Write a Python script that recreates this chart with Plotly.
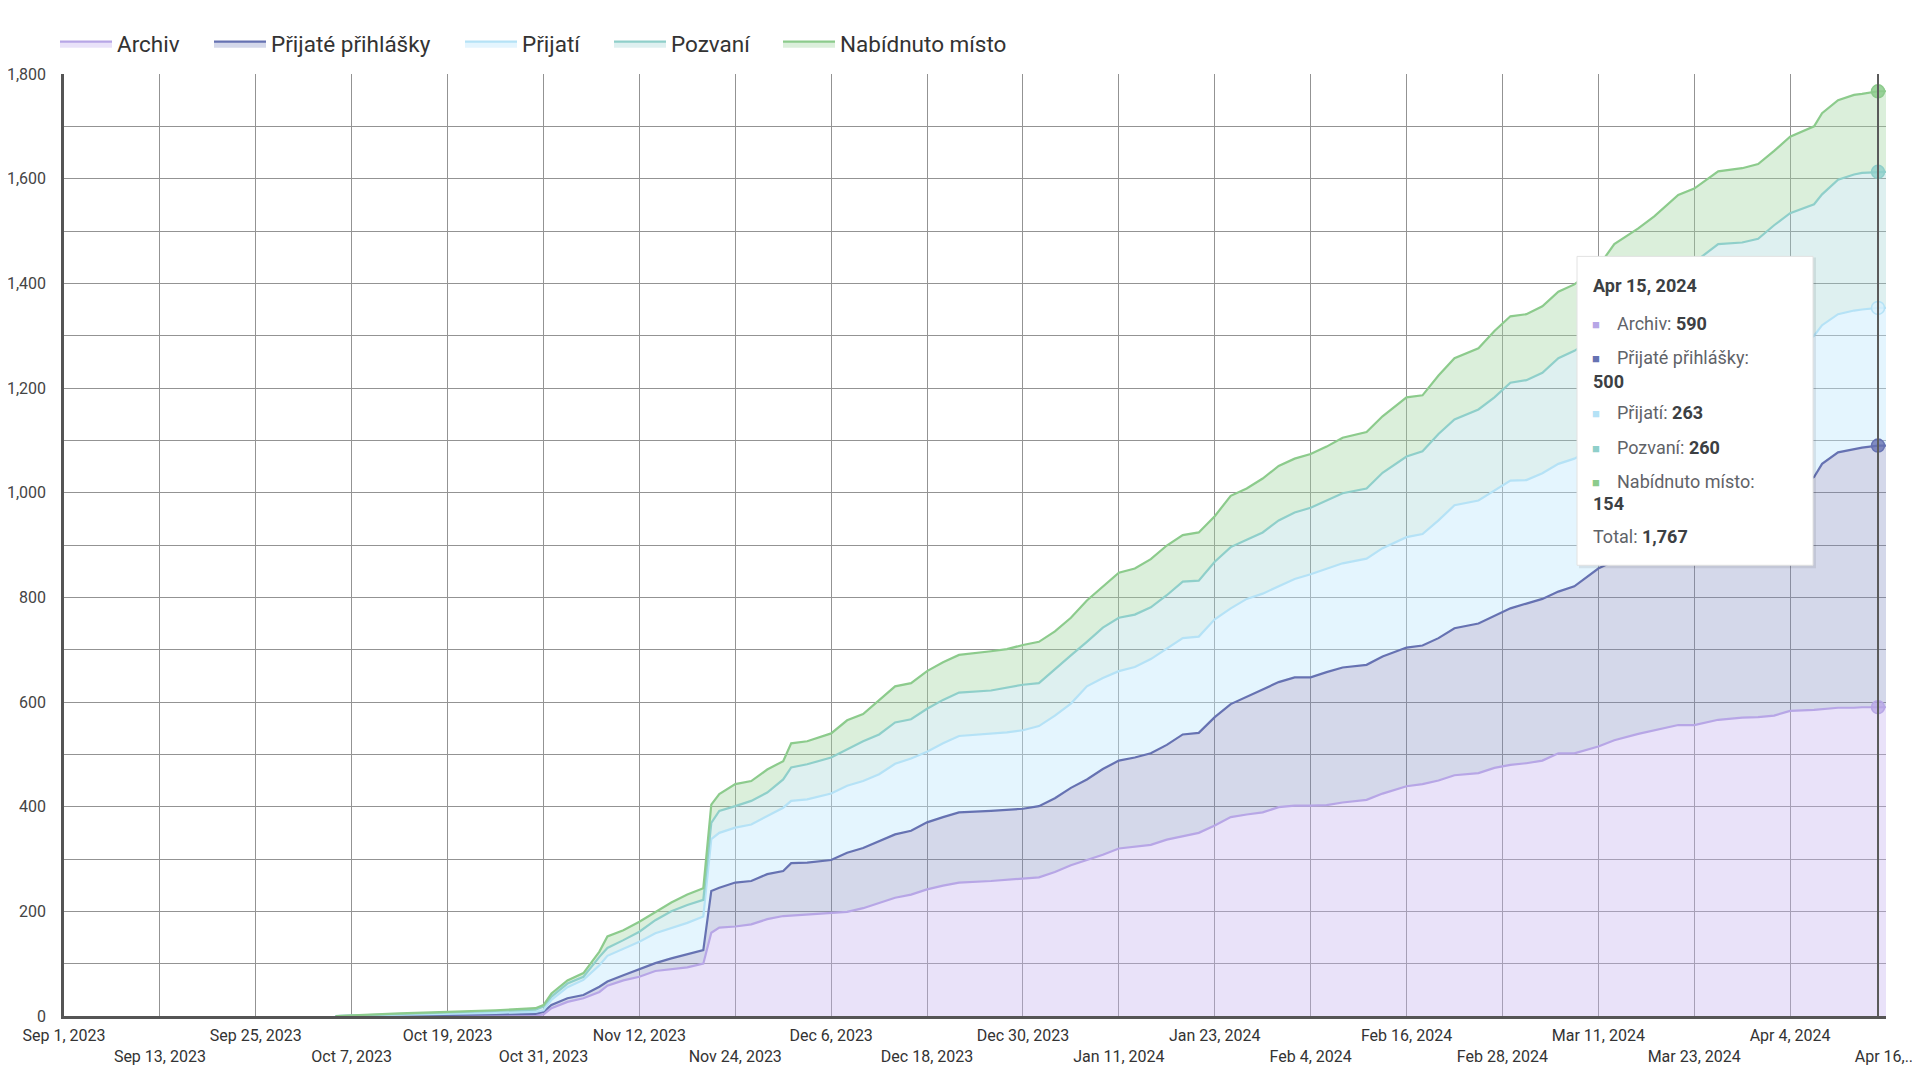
import numpy as np
import pandas as pd
import plotly.graph_objects as go

# ---------------- data ----------------
dates = ["2023-10-05", "2023-10-09", "2023-10-13", "2023-10-19", "2023-10-25", "2023-10-30", "2023-10-31",
         "2023-11-01", "2023-11-03", "2023-11-05", "2023-11-07", "2023-11-08", "2023-11-10", "2023-11-12",
         "2023-11-14", "2023-11-16", "2023-11-18", "2023-11-20", "2023-11-21", "2023-11-22", "2023-11-24",
         "2023-11-26", "2023-11-28", "2023-11-30", "2023-12-01", "2023-12-03", "2023-12-06", "2023-12-08",
         "2023-12-10", "2023-12-12", "2023-12-14", "2023-12-16", "2023-12-18", "2023-12-20", "2023-12-22",
         "2023-12-26", "2023-12-28", "2023-12-30", "2024-01-01", "2024-01-03", "2024-01-05", "2024-01-07",
         "2024-01-09", "2024-01-11", "2024-01-13", "2024-01-15", "2024-01-17", "2024-01-19", "2024-01-21",
         "2024-01-23", "2024-01-25", "2024-01-27", "2024-01-29", "2024-01-31", "2024-02-02", "2024-02-04",
         "2024-02-06", "2024-02-08", "2024-02-11", "2024-02-13", "2024-02-16", "2024-02-18", "2024-02-20",
         "2024-02-22", "2024-02-25", "2024-02-27", "2024-02-29", "2024-03-02", "2024-03-04", "2024-03-06",
         "2024-03-08", "2024-03-11", "2024-03-13", "2024-03-16", "2024-03-18", "2024-03-21", "2024-03-23",
         "2024-03-26", "2024-03-29", "2024-03-31", "2024-04-02", "2024-04-04", "2024-04-07", "2024-04-08",
         "2024-04-10", "2024-04-12", "2024-04-13", "2024-04-15", "2024-04-16"]

# running (stacked) totals, bottom layer first
top_archiv = [0, 0, 0, 0, 0, 1, 3, 15, 27, 34,
              46, 58, 68, 75, 86, 90, 93, 100, 159, 169,
              171, 175, 185, 191, 192, 194, 196, 199, 206, 216,
              226, 232, 242, 249, 255, 258, 260, 262, 265, 275,
              288, 298, 308, 320, 323, 327, 337, 344, 350, 364,
              380, 385, 389, 399, 402, 402, 403, 408, 413, 425,
              439, 443, 450, 460, 464, 474, 480, 483, 488, 502,
              502, 515, 527, 539, 546, 556, 556, 566, 570, 571,
              574, 583, 585, 586, 589, 589, 590, 590, 590]
top_prijate = [0, 0, 1, 2, 3, 4, 8, 21, 34, 40,
               56, 66, 78, 89, 101, 110, 118, 126, 239, 245,
               255, 258, 271, 277, 292, 293, 298, 312, 321, 334,
               347, 354, 370, 380, 389, 392, 394, 396, 401, 416,
               436, 452, 472, 488, 494, 502, 518, 538, 541, 571,
               596, 610, 624, 638, 647, 647, 657, 666, 671, 687,
               704, 708, 722, 741, 750, 765, 779, 788, 797, 811,
               821, 855, 870, 890, 905, 925, 940, 955, 965, 975,
               990, 1005, 1030, 1055, 1077, 1083, 1086, 1090, 1090]
top_prijati = [0, 1, 3, 4, 6, 8, 11, 31, 55, 69,
               97, 115, 128, 142, 158, 168, 178, 190, 338, 350,
               360, 366, 382, 398, 411, 414, 425, 440, 449, 462,
               482, 492, 505, 521, 535, 539, 542, 546, 554, 574,
               597, 630, 646, 659, 667, 682, 702, 722, 725, 758,
               779, 797, 807, 821, 835, 844, 854, 865, 874, 894,
               915, 921, 947, 976, 985, 1004, 1023, 1024, 1037, 1055,
               1065, 1090, 1110, 1130, 1150, 1175, 1190, 1210, 1225, 1235,
               1250, 1265, 1300, 1320, 1341, 1348, 1350, 1353, 1353]
top_pozvani = [0, 2, 4, 6, 9, 12, 18, 37, 62, 75,
               113, 130, 145, 161, 183, 200, 212, 222, 369, 392,
               401, 411, 427, 452, 475, 481, 494, 510, 525, 538,
               561, 567, 587, 604, 618, 622, 627, 633, 636, 663,
               689, 715, 742, 761, 767, 781, 804, 830, 832, 868,
               896, 910, 924, 947, 962, 971, 985, 999, 1008, 1038,
               1069, 1079, 1112, 1140, 1159, 1182, 1210, 1215, 1229, 1257,
               1271, 1300, 1330, 1360, 1385, 1420, 1440, 1475, 1478, 1485,
               1511, 1534, 1551, 1570, 1598, 1608, 1611, 1613, 1613]
top_nabidnuto = [0, 3, 5, 8, 11, 15, 21, 43, 68, 82,
                 123, 152, 164, 180, 199, 217, 232, 244, 404, 424,
                 443, 449, 471, 487, 521, 525, 540, 565, 577, 604,
                 630, 636, 659, 676, 690, 697, 701, 709, 715, 735,
                 761, 794, 820, 847, 855, 873, 899, 919, 924, 955,
                 994, 1008, 1027, 1051, 1065, 1074, 1088, 1105, 1116, 1146,
                 1182, 1186, 1224, 1257, 1276, 1309, 1337, 1341, 1356, 1384,
                 1398, 1432, 1475, 1505, 1528, 1569, 1581, 1614, 1620, 1628,
                 1653, 1680, 1700, 1725, 1750, 1760, 1762, 1767, 1767]

series_names = ["Archiv", "Přijaté přihlášky", "Přijatí", "Pozvaní", "Nabídnuto místo"]
tick_labels = ["Sep 1, 2023", "Sep 13, 2023", "Sep 25, 2023", "Oct 7, 2023", "Oct 19, 2023",
               "Oct 31, 2023", "Nov 12, 2023", "Nov 24, 2023", "Dec 6, 2023", "Dec 18, 2023",
               "Dec 30, 2023", "Jan 11, 2024", "Jan 23, 2024", "Feb 4, 2024", "Feb 16, 2024",
               "Feb 28, 2024", "Mar 11, 2024", "Mar 23, 2024", "Apr 4, 2024", "Apr 16,..."]
hover_date = "2024-04-15"
hover_label = "Apr 15, 2024"

# ---------------- styles ----------------
line_colors = ["#b7a6e6", "#6672b2", "#b5e2f6", "#8fcfca", "#8ccb8c"]
fill_colors = ["rgba(196,180,238,0.38)", "rgba(120,134,190,0.32)", "rgba(190,232,252,0.42)",
               "rgba(160,212,212,0.35)", "rgba(160,212,160,0.38)"]
marker_colors = ["rgba(183,166,230,0.75)", "rgba(102,114,178,0.8)", "rgba(215,240,252,0.8)",
                 "rgba(143,207,202,0.8)", "rgba(140,203,140,0.85)"]
square_colors = ["#b7a6e6", "#6672b2", "#b5e2f6", "#8fcfca", "#8ccb8c"]
legend_x_px = [61, 215, 466, 615, 784]
FONT = "Roboto, 'Noto Sans', sans-serif"
GRID = "#939393"

levels = np.array([top_archiv, top_prijate, top_prijati, top_pozvani, top_nabidnuto], dtype=float)
values = np.diff(np.vstack([np.zeros(len(dates)), levels]), axis=0)

fig = go.Figure()
for i, name in enumerate(series_names):
    fig.add_trace(go.Scatter(
        x=dates, y=values[i], name=name, stackgroup="one", mode="lines",
        line=dict(color=line_colors[i], width=2.2, shape="linear"),
        fillcolor=fill_colors[i], hoverinfo="skip",
        legend="legend" if i == 0 else "legend%d" % (i + 1)))

idx = dates.index(hover_date)
fig.add_trace(go.Scatter(
    x=[hover_date] * len(series_names), y=levels[:, idx], mode="markers", showlegend=False,
    marker=dict(size=13, color=marker_colors, line=dict(color=line_colors, width=1.5)),
    hoverinfo="skip"))

tick_dates = pd.date_range("2023-09-01", periods=len(tick_labels), freq="12D")
tick_text = [t if k % 2 == 0 else "<br>" + t for k, t in enumerate(tick_labels)]

# The page body has an 8px margin, so the figure is drawn 8px right/down of the window origin.
OFF = 8
W, H = 1920 - OFF, 1080 - 2 * OFF
# screen pixel targets of the plot area
L_, R_, T_, B_ = 64, 1886, 73.5, 1016
def px(x):
    return (x - L_) / (R_ - L_)
def py(y):
    return (B_ - y) / (B_ - T_)

layout_legends = {}
for i in range(len(series_names)):
    key = "legend" if i == 0 else "legend%d" % (i + 1)
    layout_legends[key] = dict(
        orientation="h", xref="container", yref="container",
        x=(legend_x_px[i] - 6 - OFF) / W, xanchor="left", y=1 - (44 - OFF) / H, yanchor="middle",
        font=dict(size=22.5, color="#333333", family=FONT),
        itemwidth=52, bgcolor="rgba(0,0,0,0)", borderwidth=0)

fig.update_layout(
    width=W, height=H,
    margin=dict(l=L_ - OFF, r=W - (R_ - OFF), t=T_ - OFF, b=H - (B_ - OFF), pad=0, autoexpand=False),
    paper_bgcolor="white", plot_bgcolor="white",
    font=dict(family=FONT, color="#333333"),
    showlegend=True,
    xaxis=dict(type="date", range=[tick_dates[0], tick_dates[-1]], automargin=False,
               tickmode="array", tickvals=tick_dates, ticktext=tick_text, tickangle=0,
               ticklabeloverflow="allow",
               showgrid=True, gridcolor=GRID, gridwidth=1.3,
               showline=True, linecolor="#555555", linewidth=2.5,
               ticks="outside", ticklen=3, tickcolor="rgba(0,0,0,0)",
               tickfont=dict(size=16, color="#333333", family=FONT), zeroline=False),
    yaxis=dict(range=[0, 1800], tickmode="linear", tick0=0, dtick=200, tickformat=",d", automargin=False,
               ticklabeloverflow="allow",
               showgrid=True, gridcolor=GRID, gridwidth=1.3,
               minor=dict(dtick=100, showgrid=True, gridcolor=GRID, gridwidth=1.3),
               showline=True, linecolor="#555555", linewidth=2.5,
               ticks="outside", ticklen=12, tickcolor="rgba(0,0,0,0)",
               tickfont=dict(size=16, color="#444444", family=FONT), zeroline=False),
    **layout_legends,
)

shapes = []
# hover line
shapes.append(dict(type="line", xref="x", yref="paper", x0=hover_date, x1=hover_date, y0=0, y1=1,
                   line=dict(color="#5a5a5a", width=2), layer="above"))
# tooltip box shadow + box
shapes.append(dict(type="rect", xref="paper", yref="paper", x0=px(1579), x1=px(1816), y0=py(568), y1=py(257),
                   fillcolor="rgba(0,0,0,0.08)", line=dict(width=0), layer="above"))
shapes.append(dict(type="rect", xref="paper", yref="paper", x0=px(1577), x1=px(1813), y0=py(565), y1=py(256),
                   fillcolor="white", line=dict(color="#e2e2e2", width=1), layer="above"))
fig.update_layout(shapes=shapes)

vals = values[:, idx].astype(int)
total = int(levels[-1, idx])
ann = []
def add_text(x, y, text, size=18, color="#5f6368"):
    ann.append(dict(xref="paper", yref="paper", x=px(x), y=py(y), xanchor="left", yanchor="middle",
                    text=text, showarrow=False, align="left",
                    font=dict(size=size, color=color, family=FONT)))

add_text(1591, 285, "<b>" + hover_label + "</b>", color="#3c4043")
rows = [(323, None), (357.5, 381), (412.5, None), (447, None), (481, 503)]
for i, name in enumerate(series_names):
    y, y2 = rows[i]
    add_text(1590, y + 1, "■", size=13, color=square_colors[i])
    if y2 is None:
        add_text(1615, y, name + ": <b><span style='color:#3c4043'>%d</span></b>" % vals[i])
    else:
        add_text(1615, y, name + ":")
        add_text(1591, y2, "<b><span style='color:#3c4043'>%d</span></b>" % vals[i])
add_text(1591, 536, "Total: <b><span style='color:#3c4043'>{:,}</span></b>".format(total))
fig.update_layout(annotations=ann)

fig.write_html("out.html")
